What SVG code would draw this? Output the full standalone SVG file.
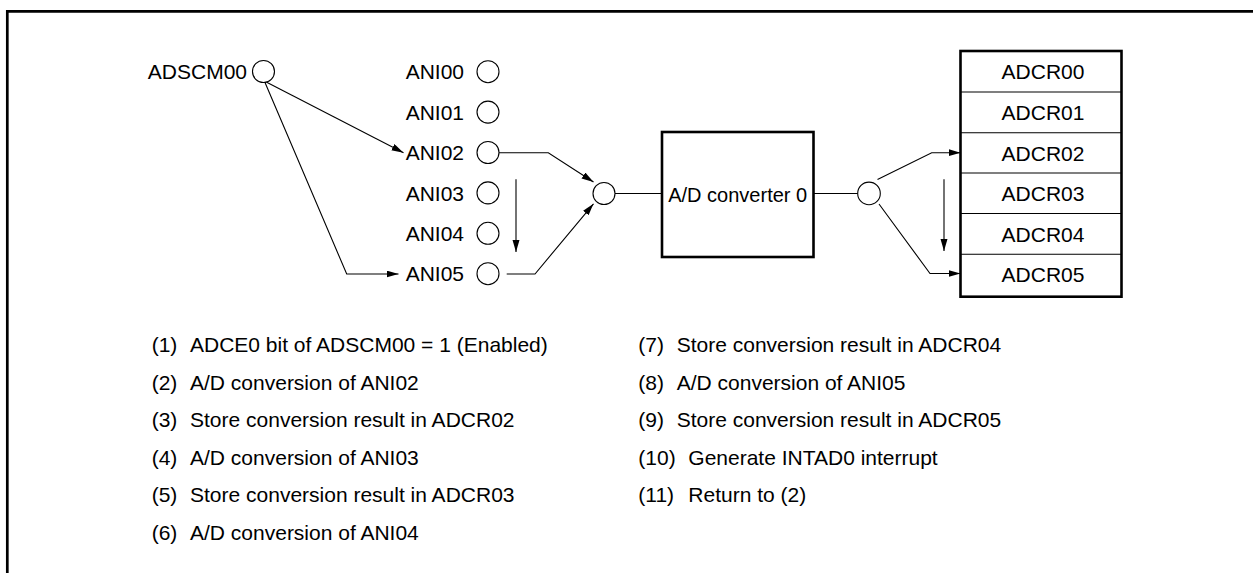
<svg xmlns="http://www.w3.org/2000/svg" width="1253" height="573" viewBox="0 0 1253 573">
<defs>
<marker id="ah" markerUnits="userSpaceOnUse" markerWidth="13" markerHeight="8" refX="12" refY="3.5" orient="auto"><path d="M0,0 L12,3.5 L0,7 z" fill="#000"/></marker>
<style>
text{font-family:"Liberation Sans",Arial,sans-serif;font-size:21px;fill:#000}
.c{fill:#fff;stroke:#000;stroke-width:1.1}
.l{fill:none;stroke:#000;stroke-width:1.1}
.a{fill:none;stroke:#000;stroke-width:1.1;marker-end:url(#ah)}
.r{text-anchor:end}
.m{text-anchor:middle}
</style>
</defs>
<rect width="1253" height="573" fill="#fff"/>
<path d="M7.3,573 V11.3 H1253" fill="none" stroke="#000" stroke-width="2.7"/>

<g id="adscm00"><text class="r" x="247" y="79">ADSCM00</text><circle class="c" cx="263.5" cy="71.5" r="11"/></g>
<g id="ani00"><text class="r" x="464" y="79">ANI00</text><circle class="c" cx="488" cy="71.7" r="11"/></g>
<g id="ani01"><text class="r" x="464" y="119.5">ANI01</text><circle class="c" cx="488" cy="112.1" r="11"/></g>
<g id="ani02"><text class="r" x="464" y="160">ANI02</text><circle class="c" cx="488" cy="152.5" r="11"/></g>
<g id="ani03"><text class="r" x="464" y="200.5">ANI03</text><circle class="c" cx="488" cy="192.9" r="11"/></g>
<g id="ani04"><text class="r" x="464" y="241">ANI04</text><circle class="c" cx="488" cy="233.3" r="11"/></g>
<g id="ani05"><text class="r" x="464" y="281">ANI05</text><circle class="c" cx="488" cy="273.7" r="11"/></g>
<g id="mux-in"><circle class="c" cx="604" cy="193.5" r="11"/></g>
<g id="adc0"><rect x="662" y="132" width="151.5" height="125" fill="#fff" stroke="#000" stroke-width="2.6"/><text class="m" x="737.7" y="201.5" style="font-size:20px">A/D converter 0</text></g>
<g id="mux-out"><circle class="c" cx="869" cy="193.4" r="11.3"/></g>
<g id="adcr">
<rect x="960.5" y="51" width="161" height="245.7" fill="#fff" stroke="#000" stroke-width="2.6"/>
<path class="l" d="M960.5,92 H1121.5 M960.5,132.8 H1121.5 M960.5,173 H1121.5 M960.5,213.5 H1121.5 M960.5,254.3 H1121.5"/>
<text class="m" x="1043" y="79">ADCR00</text>
<text class="m" x="1043" y="120">ADCR01</text>
<text class="m" x="1043" y="160.5">ADCR02</text>
<text class="m" x="1043" y="201">ADCR03</text>
<text class="m" x="1043" y="241.5">ADCR04</text>
<text class="m" x="1043" y="282">ADCR05</text>
</g>

<g id="connectors">
<path class="a" d="M266.7,82.3 L403.5,152.7"/>
<path class="a" d="M265,82.5 L346.7,274 H398.5"/>
<path class="a" d="M499,152.7 H548.3 L593.5,182"/>
<path class="a" d="M506.7,274 H535 L593.5,203.8"/>
<path class="l" d="M615,193.5 H662"/>
<path class="l" d="M813.5,193.5 H857.7"/>
<path class="a" d="M877.5,179.5 L931.7,152.7 H960.5"/>
<path class="a" d="M879,204 L930,273.5 H960.5"/>
<path class="a" d="M516,179.3 V252"/>
<path class="a" d="M944,179.3 V251"/>
</g>

<g id="legend">
<text x="151.7" y="352">(1)</text><text x="190" y="352">ADCE0 bit of ADSCM00 = 1 (Enabled)</text>
<text x="151.7" y="389.5">(2)</text><text x="190" y="389.5">A/D conversion of ANI02</text>
<text x="151.7" y="427">(3)</text><text x="190" y="427">Store conversion result in ADCR02</text>
<text x="151.7" y="464.5">(4)</text><text x="190" y="464.5">A/D conversion of ANI03</text>
<text x="151.7" y="502">(5)</text><text x="190" y="502">Store conversion result in ADCR03</text>
<text x="151.7" y="539.5">(6)</text><text x="190" y="539.5">A/D conversion of ANI04</text>
<text x="638.3" y="352">(7)</text><text x="676.7" y="352">Store conversion result in ADCR04</text>
<text x="638.3" y="389.5">(8)</text><text x="676.7" y="389.5">A/D conversion of ANI05</text>
<text x="638.3" y="427">(9)</text><text x="676.7" y="427">Store conversion result in ADCR05</text>
<text x="638.3" y="464.5">(10)</text><text x="688.3" y="464.5">Generate INTAD0 interrupt</text>
<text x="638.3" y="502">(11)</text><text x="688.3" y="502">Return to (2)</text>
</g>
</svg>
